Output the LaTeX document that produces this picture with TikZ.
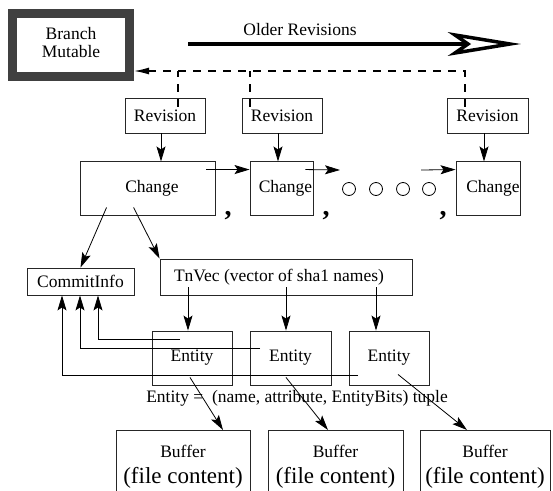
\documentclass[tikz,border=0pt]{standalone}
\usepackage{fontspec}
\setmainfont{Liberation Serif}
\usetikzlibrary{arrows.meta}
\begin{document}
\begin{tikzpicture}[x=1pt,y=-1pt,
  box/.style={draw=black!85, line width=0.9pt, inner sep=0pt, font=\fontsize{17.5}{20}\selectfont},
  conn/.style={line width=0.8pt, -{Stealth[length=15pt,width=9pt,inset=3pt]}},
  dconn/.style={line width=1.4pt, dash pattern=on 8pt off 7pt},
  lbl/.style={font=\fontsize{17.5}{20}\selectfont, inner sep=0pt},
  commastyle/.style={font=\fontsize{28}{28}\selectfont\bfseries, inner sep=0pt, anchor=base},
  dot/.style={circle, draw, minimum size=13pt, inner sep=0pt, line width=0.8pt},
]
\useasboundingbox (0,0) rectangle (553,490);
\fill[white] (0,0) rectangle (553,490);
\clip (0,0) rectangle (553,490);

% Branch Mutable
\node[box, line width=9pt, draw=black!75, fill=white, minimum width=117pt, minimum height=63pt,
      font=\fontsize{17.5}{18}\selectfont] (bm) at (71,45)
      {\raisebox{-3pt}{\begin{tabular}{@{}c@{}}Branch\\Mutable\end{tabular}}};

% Older revisions arrow
\node[lbl] (ortext) at (300,30) {Older Revisions};
\coordinate (oa) at (188,44);
\coordinate (ob) at (468,44);
\draw[line width=4pt] (oa) -- (ob);
\draw[line width=3.5pt, fill=white, line join=miter] (455,35) -- (510,44) -- (455,53) -- (468,44) -- cycle;

% Revisions
\node[box, minimum width=80pt, minimum height=35pt] (rev1) at (165,115.5) {\raisebox{-2pt}{Revision}};
\node[box, minimum width=80pt, minimum height=35pt] (rev2) at (282,115.5) {\raisebox{-2pt}{Revision}};
\node[box, minimum width=81pt, minimum height=35pt] (rev3) at (487.5,115.5) {\raisebox{-2pt}{Revision}};

% dashed links to Branch
\draw[dconn, -{Latex[length=15pt,width=7pt]}] ([xshift=-22.5pt,yshift=-9pt]rev3.north) |- (bm.east |- 0,71);
\draw[dconn] ([xshift=13pt,yshift=-9pt]rev1.north) -- ++(0,-36);
\draw[dconn] ([xshift=-32pt,yshift=-9pt]rev2.north) -- ++(0,-36);

% Changes
\node[box, minimum width=135pt, minimum height=54pt] (ch1) at (147.5,188) {\hspace*{9pt}Change};
\node[box, minimum width=63pt, minimum height=54pt] (ch2) at (281.5,188) {\hspace*{8pt}Change};
\node[box, minimum width=64pt, minimum height=54pt] (ch3) at (488,188) {\hspace*{10pt}Change};

\draw[conn] ([xshift=-4pt]rev1.south) -- ++(0,28);
\draw[conn] ([xshift=-4pt]rev2.south) -- ++(0,28);
\draw[conn] ([xshift=-3.5pt]rev3.south) -- ++(0,28);

\node[commastyle] (comma1) at (228,215) {,};
\node[commastyle] (comma2) at (326,215) {,};
\node[commastyle] (comma3) at (443,215) {,};

\node[dot] (o1) at (349,189) {};
\node[dot] (o2) at (376,189) {};
\node[dot] (o3) at (403,189) {};
\node[dot] (o4) at (429,189) {};

\coordinate (dotsin) at (340,170);
\coordinate (dotsout) at (421,170);
\draw[conn] ([xshift=-9pt,yshift=-9pt]ch1.north east) -- ([yshift=-9pt]ch2.north west);
\draw[conn] ([xshift=-8pt,yshift=-9pt]ch2.north east) -- (dotsin);
\draw[conn] (dotsout) -- ([yshift=-9pt]ch3.north west);

% CommitInfo and TnVec
\node[box, minimum width=107pt, minimum height=27pt] (ci) at (80.5,281.5) {CommitInfo};
\node[box, minimum width=252pt, minimum height=36pt] (tn) at (286,277) {\raisebox{4pt}{TnVec (vector of sha1 names)}\hspace*{14pt}};

\draw[conn] ([xshift=27pt,yshift=8pt]ch1.south west) -- (ci.north);
\draw[conn] ([xshift=54pt,yshift=8pt]ch1.south west) -- (tn.north west);

% Entities
\node[box, minimum width=80pt, minimum height=54pt] (e1) at (192,358) {Entity};
\node[box, minimum width=81pt, minimum height=54pt] (e2) at (290.5,358) {Entity};
\node[box, minimum width=80pt, minimum height=54pt] (e3) at (389,358) {Entity};

\draw[conn] ([xshift=-98pt,yshift=8pt]tn.south) -- ([xshift=-4pt]e1.north);
\draw[conn] ([yshift=8pt]tn.south) -- ([xshift=-4.5pt]e2.north);
\draw[conn] ([xshift=90pt,yshift=8pt]tn.south) -- ([xshift=-13pt]e3.north);

\draw[conn] ([xshift=-12pt,yshift=-9pt]e1.north) -| ([xshift=17.5pt]ci.south);
\draw[conn] ([xshift=-30.5pt,yshift=-18pt]e2.north) -| ([xshift=-0.5pt]ci.south);
\draw[conn] ([xshift=-31pt,yshift=-45pt]e3.north) -| ([xshift=-18.5pt]ci.south);

\node[lbl] (etext) at (297,398) {Entity =\ \ (name, attribute, EntityBits) tuple};

% Buffers
\node[box, anchor=north, minimum width=134pt, minimum height=73pt, align=center,
      font=\fontsize{23}{26}\selectfont] (b1) at (183,430)
      {{\fontsize{17.5}{26}\selectfont Buffer}\\(file content)};
\node[box, anchor=north, minimum width=135pt, minimum height=73pt, align=center,
      font=\fontsize{23}{26}\selectfont] (b2) at (335.5,430)
      {{\fontsize{17.5}{26}\selectfont Buffer}\\(file content)};
\node[box, anchor=north, minimum width=130pt, minimum height=73pt, align=center,
      font=\fontsize{23}{26}\selectfont] (b3) at (485,430)
      {{\fontsize{17.5}{26}\selectfont Buffer}\\(file content)};

\draw[conn] ([xshift=-2pt,yshift=8pt]e1.south) -- ([xshift=40pt]b1.north);
\draw[conn] ([xshift=-4.5pt,yshift=8pt]e2.south) -- ([xshift=-7.5pt]b2.north);
\draw[conn] ([xshift=9pt,yshift=11pt]e3.south) -- ([xshift=-18pt]b3.north);
\end{tikzpicture}
\end{document}
